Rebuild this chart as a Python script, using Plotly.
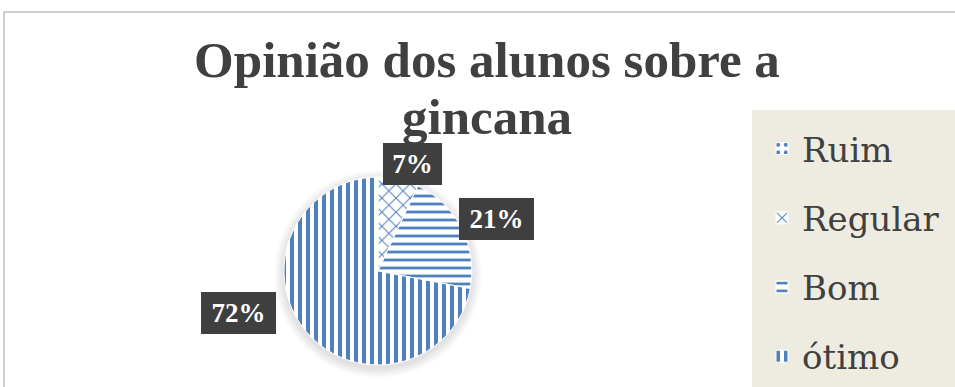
import math
import plotly.graph_objects as go

# ---- data ----
categories = ["Ruim", "Regular", "Bom", "ótimo"]
values = [0, 7, 21, 72]
title_line1 = "Opinião dos alunos sobre a"
title_line2 = "gincana"

# ---- style ----
patterns = [".", "x", "-", "|"]
pattern_sizes = [8, 10, 8, 8]
pattern_solidity = [0.25, 0.2, 0.35, 0.5]
label_offsets = [(0, 0), (14, -15), (35, -9), (-67, -18)]  # px offset of label box from slice edge
BLUE = "#4F81BD"
TEXT = "#404040"
BEIGE = "#EEECE1"

W, H = 955, 387
CX, CY, R = 378, 271, 94  # pie centre / radius in px


def px_x(x):
    return x / W


def px_y(y):
    return 1 - y / H


fig = go.Figure()
fig.add_trace(go.Pie(
    labels=categories,
    values=values,
    sort=False,
    direction="clockwise",
    rotation=0,
    textinfo="none",
    hoverinfo="label+percent",
    domain=dict(x=[px_x(CX - R), px_x(CX + R)], y=[px_y(CY + R), px_y(CY - R)]),
    marker=dict(
        colors=["white"] * len(categories),
        line=dict(color="white", width=1),
        pattern=dict(shape=patterns, fgcolor=BLUE, bgcolor="white",
                     size=pattern_sizes, solidity=pattern_solidity, fillmode="replace"),
    ),
))
# helper entry (named legend group) so the legend spaces each slice entry apart;
# it lands below the visible area
fig.add_trace(go.Pie(
    labels=[" "], values=[1], legendgroup="extra", textinfo="none", hoverinfo="skip",
    domain=dict(x=[0, 0.0001], y=[0, 0.0001]),
    marker=dict(colors=["rgba(0,0,0,0)"], line=dict(width=0)),
))

# data labels, placed from the slice mid-angles
total = sum(values)
annotations = []
cum = 0
for cat, v, (ox, oy) in zip(categories, values, label_offsets):
    if v > 0:
        mid = 2 * math.pi * (cum + v / 2) / total
        ex = CX + R * math.sin(mid)
        ey = CY - R * math.cos(mid)
        txt = f"{round(100 * v / total)}%"
        annotations.append(dict(
            x=px_x(ex), y=px_y(ey), xref="paper", yref="paper",
            text=f"<b>{txt}</b>", showarrow=True, arrowcolor="rgba(0,0,0,0)",
            ax=ox, ay=oy, bgcolor="#3F3F3F", borderpad=5, borderwidth=1,
            bordercolor="#3F3F3F",
            width=15 + 16 * len(txt),
            font=dict(family="Liberation Serif", size=27, color="white"),
        ))
    cum += v

annotations.append(dict(
    x=487 / W, y=1 - 117.3 / H, xref="paper", yref="paper",
    text=title_line2, showarrow=False, xanchor="center", yanchor="middle",
    borderpad=0, borderwidth=0,
    font=dict(family="Liberation Serif", size=51, color=TEXT, weight=700),
))

shapes = []
# soft shadow behind the pie
for i in range(1, 11):
    rr = R + i
    shapes.append(dict(type="circle", xref="paper", yref="paper", layer="below",
                       x0=px_x(CX - rr), x1=px_x(CX + rr),
                       y0=px_y(CY + 3 + rr), y1=px_y(CY + 3 - rr),
                       fillcolor="rgba(0,0,0,0.012)", line=dict(width=0)))
# legend panel
shapes.append(dict(type="rect", xref="paper", yref="paper", layer="below",
                   x0=px_x(752), x1=1.05, y0=-0.05, y1=px_y(110),
                   fillcolor=BEIGE, line=dict(width=0)))
# chart border (cropped)
shapes.append(dict(type="rect", xref="paper", yref="paper", layer="above",
                   x0=px_x(4), x1=1.05, y0=-0.05, y1=px_y(12),
                   line=dict(color="#BFBFBF", width=1.5), fillcolor="rgba(0,0,0,0)"))

fig.update_layout(
    width=W, height=H,
    margin=dict(l=0, r=0, t=0, b=0, autoexpand=False),
    paper_bgcolor="white",
    title=dict(text=title_line1, x=487 / W, xref="container", xanchor="center",
               y=1 - 59.6 / H, yref="container", yanchor="middle",
               font=dict(family="Liberation Serif", size=51, color=TEXT, weight=700)),
    legend=dict(x=762 / W, y=1 - 120 / H, xanchor="left", yanchor="top",
                bgcolor="rgba(0,0,0,0)", traceorder="grouped", tracegroupgap=22,
                font=dict(family="DejaVu Serif", size=34, color=TEXT)),
    annotations=annotations,
    shapes=shapes,
)

fig.write_html("out.html")
